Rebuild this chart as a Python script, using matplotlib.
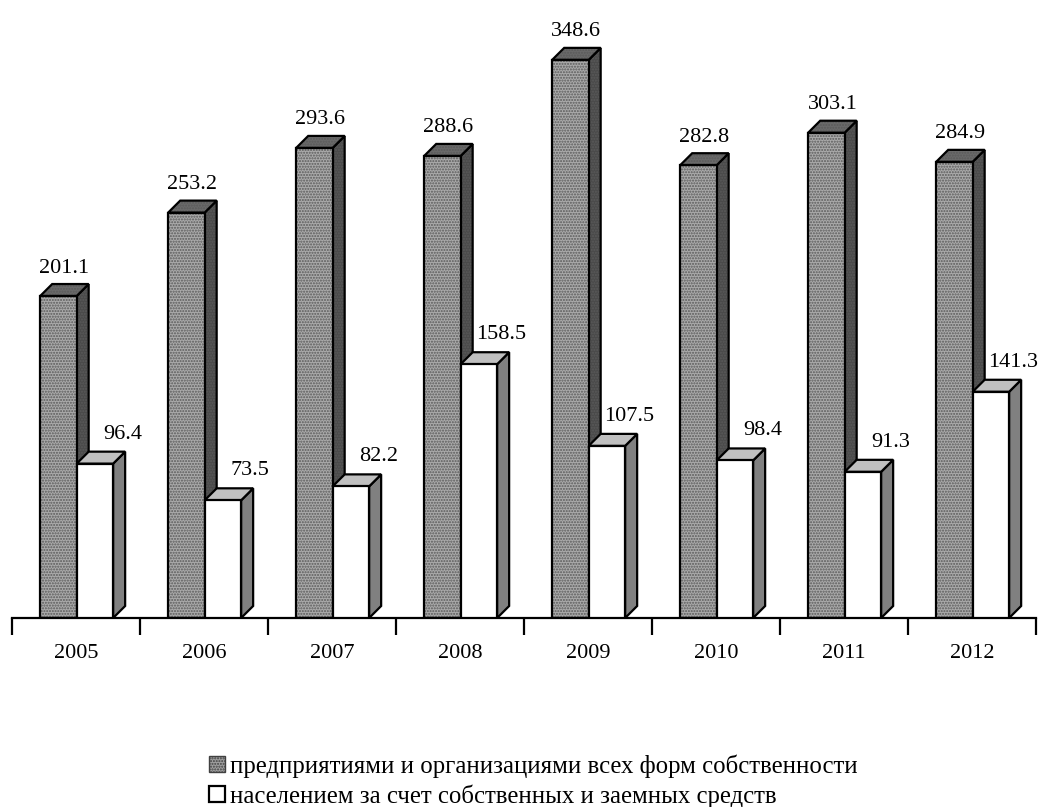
import numpy as np
import matplotlib.pyplot as plt
from matplotlib.patches import Rectangle, Polygon, Patch

years = ['2005', '2006', '2007', '2008', '2009', '2010', '2011', '2012']
enterprises = [201.1, 253.2, 293.6, 288.6, 348.6, 282.8, 303.1, 284.9]
population = [96.4, 73.5, 82.2, 158.5, 107.5, 98.4, 91.3, 141.3]
labels = ['предприятиями и организациями всех форм собственности',
          'населением за счет собственных и заемных средств']

plt.rcParams['font.family'] = ['Liberation Serif', 'DejaVu Serif']
plt.rcParams['hatch.linewidth'] = 1.0

fig = plt.figure(figsize=(10.42, 8.07), dpi=100)
ax = fig.add_axes([12/1042, 189/807, 1024/1042, 618/807])
ax.set_xlim(0, 8)
ax.set_ylim(0, 386)

dx = 0.094
dy = 7.5
w = 0.285


def face(pts, fc, hatch=None, hc=None, z=2):
    if hatch:
        ax.add_patch(Polygon(pts, closed=True, facecolor=fc, edgecolor=hc,
                             hatch=hatch, lw=0, zorder=z))
        ax.add_patch(Polygon(pts, closed=True, facecolor='none',
                             edgecolor='black', lw=1.6, zorder=z))
    else:
        ax.add_patch(Polygon(pts, closed=True, facecolor=fc,
                             edgecolor='black', lw=1.6, zorder=z))


def box(x0, h, front, side, top, hatch=None, hc=None, z=2):
    face([(x0 + w, 0), (x0 + w + dx, dy), (x0 + w + dx, h + dy), (x0 + w, h)],
         side, hatch, hc, z)
    face([(x0, h), (x0 + dx, h + dy), (x0 + w + dx, h + dy), (x0 + w, h)],
         top, hatch, hc, z)
    face([(x0, 0), (x0 + w, 0), (x0 + w, h), (x0, h)], front, hatch, hc, z)


for i in range(len(years)):
    x1 = i + 0.22
    box(x1, enterprises[i], '#aaaaaa', '#4a4a4a', '#6a6a6a', '......', '#5a5a5a', z=2)
    ax.text(x1 + (w + dx) / 2, enterprises[i] + dy + 10, f'{enterprises[i]:.1f}',
            ha='center', va='center', fontsize=16)
    x2 = x1 + w
    box(x2, population[i], 'white', '#808080', '#c0c0c0', z=3)
    ax.text(x2 + w + dx + 0.13, population[i] + dy + 11, f'{population[i]:.1f}',
            ha='right', va='center', fontsize=16)

for s in ['top', 'right', 'left']:
    ax.spines[s].set_visible(False)
ax.spines['bottom'].set_linewidth(1.6)
ax.set_yticks([])
ax.set_xticks(np.arange(0, 9))
ax.set_xticklabels([])
ax.tick_params(axis='x', which='major', direction='out', length=12, width=1.6)
ax.set_xticks(np.arange(len(years)) + 0.5, minor=True)
ax.set_xticklabels(years, minor=True, fontsize=16)
ax.tick_params(axis='x', which='minor', length=0, pad=19)

handles = [Patch(facecolor='#a0a0a0', edgecolor='#404040', hatch='......', lw=1),
           Patch(facecolor='white', edgecolor='black', lw=1.6)]
fig.legend(handles, labels, loc='upper left', bbox_to_anchor=(197/1042, 1 - 742/807),
           frameon=False, fontsize=17.8, handlelength=0.64, handleheight=0.64,
           handletextpad=0.2, labelspacing=0.25, borderpad=0)

fig.savefig('out.png', dpi=100)
